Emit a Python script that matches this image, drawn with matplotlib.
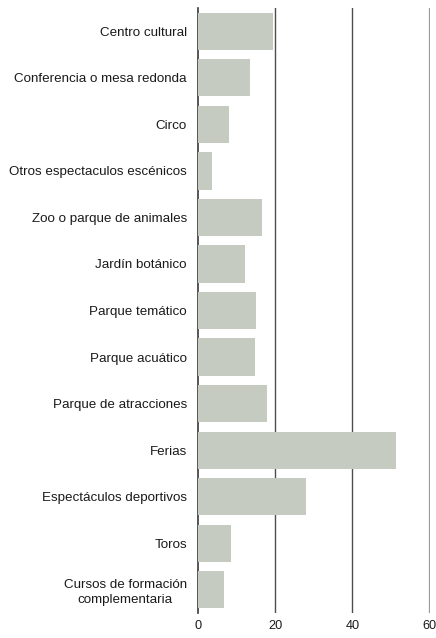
import matplotlib.pyplot as plt

categorias = ["Centro cultural", "Conferencia o mesa redonda", "Circo",
              "Otros espectaculos escénicos", "Zoo o parque de animales",
              "Jardín botánico", "Parque temático", "Parque acuático",
              "Parque de atracciones", "Ferias", "Espectáculos deportivos",
              "Toros", "Cursos de formación\ncomplementaria"]
valores = [19.4, 13.5, 8.0, 3.6, 16.6, 12.2, 15.0, 14.8, 17.9, 51.3, 28.0, 8.5, 6.7]
ticks_x = [0, 20, 40, 60]

plt.rcParams['font.family'] = ['Liberation Sans', 'DejaVu Sans']

fig = plt.figure(figsize=(4.36, 6.38), dpi=100)
ax = fig.add_axes([0.454, 0.039, 0.5316, 0.9485])

pos = list(range(len(categorias)))
ax.barh(pos, valores, height=0.8, color="#c6cbc1", zorder=3)
ax.set_ylim(len(categorias) - 0.5, -0.5)
ax.set_xlim(0, 60)

# vertical guide lines; the last one is lighter
for x in ticks_x[1:-1]:
    ax.axvline(x, color="#4d4d4d", lw=1.0, zorder=1)
ax.axvline(60, color="#9a9a9a", lw=1.6, zorder=1)

for s in ["top", "right", "bottom"]:
    ax.spines[s].set_visible(False)
ax.spines["left"].set_color("#3a3a3a")
ax.spines["left"].set_linewidth(1.2)
ax.spines["left"].set_zorder(2)

ax.set_yticks(pos)
ax.set_yticklabels(categorias, fontsize=9.6, color="#1a1a1a",
                   multialignment="center", linespacing=1.3)
ax.tick_params(axis="y", length=0, pad=8)
ax.set_xticks(ticks_x)
ax.set_xticklabels([str(t) for t in ticks_x], fontsize=9.2, color="#1a1a1a")
ax.tick_params(axis="x", length=0, pad=5)
for lbl in ax.get_xticklabels():
    lbl.set_clip_on(False)

fig.savefig("out.png", dpi=100)
